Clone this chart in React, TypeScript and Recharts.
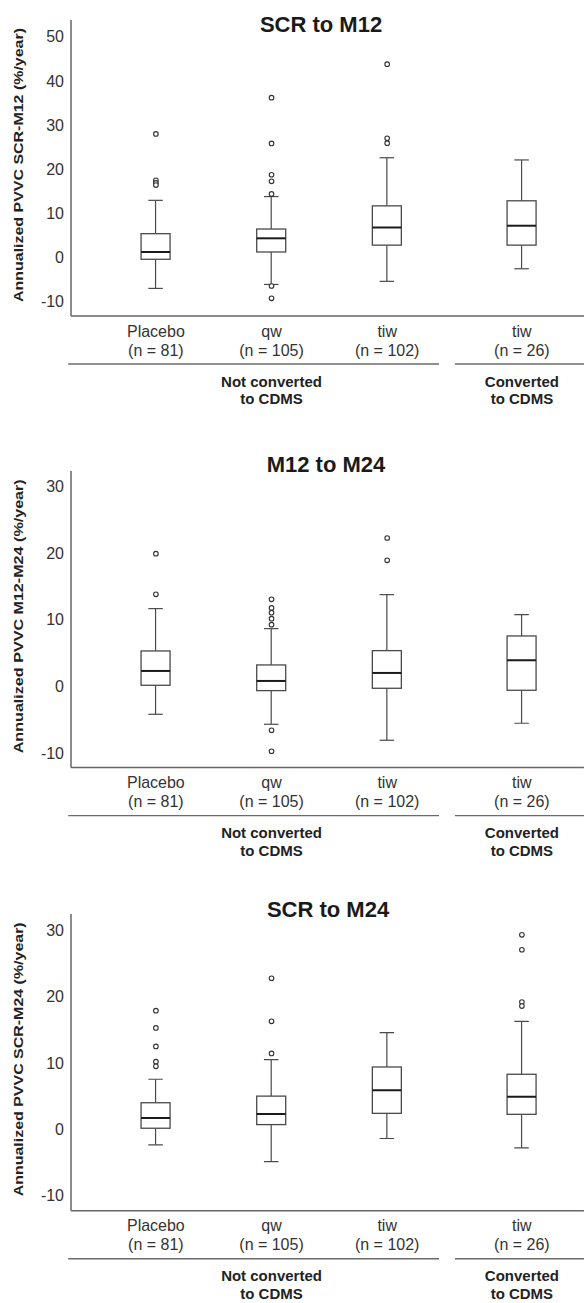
import { Bar, ComposedChart, Scatter, XAxis, YAxis } from "recharts";

const FONT = '"Liberation Sans", Arial, sans-serif';

// x positions of the four boxes (the converted group sits a little apart)
const positions = [1, 2, 3, 4.165];
const groupNames = ["Placebo", "qw", "tiw", "tiw"];
const groupSizes = ["(n = 81)", "(n = 105)", "(n = 102)", "(n = 26)"];

const cohortLabels = [
  ["Not converted", "to CDMS"],
  ["Converted", "to CDMS"],
];
const cohortTick = [1, 3];
const cohortSpans = [
  [0.242, 3.448],
  [3.586, 4.9],
];

const X_MIN = 0.266;
const X_MAX = 4.702;
const PLOT_W = 584 - 71;
const PX_PER_X = PLOT_W / (X_MAX - X_MIN);

// SCR to M12
const m12Low = [-7.0, -6.1, -5.4, -2.55];
const m12Q1 = [-0.4, 1.25, 2.8, 2.8];
const m12Median = [1.25, 4.35, 6.8, 7.2];
const m12Q3 = [5.4, 6.45, 11.7, 12.85];
const m12High = [12.95, 13.8, 22.6, 22.1];
const m12Outliers = [
  [28.0, 17.5, 16.9, 16.4],
  [36.2, 25.85, 18.75, 17.25, 14.4, -6.45, -9.25],
  [43.8, 27.0, 25.9],
  [],
];

// M12 to M24
const m24Low = [-4.2, -5.7, -8.1, -5.55];
const m24Q1 = [0.15, -0.65, -0.3, -0.6];
const m24Median = [2.3, 0.8, 2.0, 3.9];
const m24Q3 = [5.3, 3.2, 5.35, 7.55];
const m24High = [11.65, 8.65, 13.75, 10.75];
const m24Outliers = [
  [19.9, 13.8],
  [13.05, 11.75, 11.05, 10.15, 9.25, -6.6, -9.75],
  [22.25, 18.9],
  [],
];

// SCR to M24
const allLow = [-2.35, -4.9, -1.4, -2.8];
const allQ1 = [0.15, 0.7, 2.4, 2.25];
const allMedian = [1.7, 2.3, 5.9, 4.9];
const allQ3 = [4.0, 5.0, 9.4, 8.3];
const allHigh = [7.55, 10.5, 14.6, 16.3];
const allOutliers = [
  [17.9, 15.3, 12.5, 10.2, 9.5],
  [22.8, 16.3, 11.45],
  [],
  [29.35, 27.1, 19.2, 18.6],
];

const ticksM12 = [-10, 0, 10, 20, 30, 40, 50];
const ticksM24 = [-10, 0, 10, 20, 30];

function BoxShape(props: any) {
  const { x, y, width, height, payload } = props;
  if (height == null || y == null) return null;
  const top = Math.min(y, y + height);
  const k = Math.abs(height) / (payload.high - payload.low);
  const py = (v: number) => top + (payload.high - v) * k;
  const cx = x + width / 2;
  const cap = width / 4;
  const stroke = "#4a4a4a";
  return (
    <g>
      <line x1={cx} x2={cx} y1={py(payload.high)} y2={py(payload.q3)} stroke={stroke} strokeWidth={1.2} />
      <line x1={cx} x2={cx} y1={py(payload.q1)} y2={py(payload.low)} stroke={stroke} strokeWidth={1.2} />
      <line x1={cx - cap} x2={cx + cap} y1={py(payload.high)} y2={py(payload.high)} stroke={stroke} strokeWidth={1.2} />
      <line x1={cx - cap} x2={cx + cap} y1={py(payload.low)} y2={py(payload.low)} stroke={stroke} strokeWidth={1.2} />
      <rect
        x={x}
        y={py(payload.q3)}
        width={width}
        height={py(payload.q1) - py(payload.q3)}
        fill="#fff"
        stroke={stroke}
        strokeWidth={1.3}
      />
      <line x1={x} x2={x + width} y1={py(payload.median)} y2={py(payload.median)} stroke="#1a1a1a" strokeWidth={2} />
    </g>
  );
}

function Outlier(props: any) {
  const { cx, cy } = props;
  if (cx == null || cy == null) return null;
  return <circle cx={cx} cy={cy} r={2.3} fill="#fff" stroke="#333" strokeWidth={1.1} />;
}

function CategoryTick(props: any) {
  const { x, y, index } = props;
  const ci = cohortTick.indexOf(index);
  const posNow = positions[index];
  return (
    <g fontFamily={FONT}>
      <text x={x} y={y + 20.5} textAnchor="middle" fontSize={16} fill="#333">
        {groupNames[index]}
      </text>
      <text x={x} y={y + 39.5} textAnchor="middle" fontSize={16} fill="#333">
        {groupSizes[index]}
      </text>
      {ci >= 0 && (
        <g>
          <line
            x1={x + (cohortSpans[ci][0] - posNow) * PX_PER_X}
            x2={x + (cohortSpans[ci][1] - posNow) * PX_PER_X}
            y1={y + 48}
            y2={y + 48}
            stroke="#6b6b6b"
            strokeWidth={1.4}
          />
          <text x={x} y={y + 70.5} textAnchor="middle" fontSize={15} fontWeight="bold" fill="#222">
            {cohortLabels[ci][0]}
          </text>
          <text x={x} y={y + 88} textAnchor="middle" fontSize={15} fontWeight="bold" fill="#222">
            {cohortLabels[ci][1]}
          </text>
        </g>
      )}
    </g>
  );
}

function Panel(props: {
  top: number;
  title: string;
  titleX: number;
  titleY: number;
  yLabel: string;
  plotH: number;
  domain: [number, number];
  ticks: number[];
  low: number[];
  q1: number[];
  median: number[];
  q3: number[];
  high: number[];
  outliers: number[][];
}) {
  const rows = positions.map((pos, i) => ({
    pos,
    low: props.low[i],
    q1: props.q1[i],
    median: props.median[i],
    q3: props.q3[i],
    high: props.high[i],
  }));
  const points = props.outliers.flatMap((list, i) => list.map((v) => ({ pos: positions[i], v })));
  const height = 20 + props.plotH + 104;

  const yLabel = (p: any) => {
    const vb = p.viewBox || { x: 0, y: 20, width: 71, height: props.plotH };
    const lx = 18;
    const ly = vb.y + vb.height / 2 - 3;
    return (
      <text
        x={lx}
        y={ly}
        transform={`rotate(-90, ${lx}, ${ly})`}
        textAnchor="middle"
        dominantBaseline="central"
        fontFamily={FONT}
        fontWeight="bold"
        fontSize={13}
        fill="#222"
        textLength={274}
        lengthAdjust="spacingAndGlyphs"
      >
        {props.yLabel}
      </text>
    );
  };

  return (
    <div style={{ position: "absolute", left: 0, top: props.top, width: 584, height }}>
      <ComposedChart width={584} height={height} data={rows} margin={{ top: 20, right: 0, bottom: 0, left: 0 }}>
        <XAxis
          type="number"
          dataKey="pos"
          domain={[X_MIN, X_MAX]}
          allowDataOverflow
          ticks={positions}
          interval={0}
          height={104}
          tickLine={false}
          tickSize={0}
          tickMargin={0}
          axisLine={{ stroke: "#666", strokeWidth: 1.5 }}
          tick={<CategoryTick />}
        />
        <YAxis
          type="number"
          width={71}
          domain={props.domain}
          allowDataOverflow
          ticks={props.ticks}
          interval={0}
          tickLine={false}
          tickSize={0}
          tickMargin={7}
          axisLine={{ stroke: "#666", strokeWidth: 1.5 }}
          tick={{ fill: "#333", fontSize: 16, fontFamily: FONT }}
          label={{ value: props.yLabel, content: yLabel }}
        />
        <Bar
          dataKey={(d: any) => [d.low, d.high]}
          barSize={29}
          shape={<BoxShape />}
          isAnimationActive={false}
        />
        <Scatter data={points} dataKey="v" shape={<Outlier />} isAnimationActive={false} />
      </ComposedChart>
      <div
        style={{
          position: "absolute",
          left: props.titleX - 150,
          width: 300,
          top: props.titleY - 21,
          textAlign: "center",
          fontFamily: FONT,
          fontWeight: "bold",
          fontSize: 22,
          lineHeight: "26px",
          color: "#1a1a1a",
        }}
      >
        {props.title}
      </div>
    </div>
  );
}

export default function App() {
  return (
    <div style={{ position: "absolute", left: 0, top: 0, width: 584, height: 1303, background: "#fff" }}>
      <Panel
        top={0}
        title="SCR to M12"
        titleX={321}
        titleY={33}
        yLabel="Annualized PVVC SCR-M12 (%/year)"
        plotH={296}
        domain={[-13.25, 53.8]}
        ticks={ticksM12}
        low={m12Low}
        q1={m12Q1}
        median={m12Median}
        q3={m12Q3}
        high={m12High}
        outliers={m12Outliers}
      />
      <Panel
        top={450.7}
        title="M12 to M24"
        titleX={326}
        titleY={22.6}
        yLabel="Annualized PVVC M12-M24 (%/year)"
        plotH={296.6}
        domain={[-12.2, 32.3]}
        ticks={ticksM24}
        low={m24Low}
        q1={m24Q1}
        median={m24Median}
        q3={m24Q3}
        high={m24High}
        outliers={m24Outliers}
      />
      <Panel
        top={894.3}
        title="SCR to M24"
        titleX={328}
        titleY={23.4}
        yLabel="Annualized PVVC SCR-M24 (%/year)"
        plotH={296.7}
        domain={[-12.3, 32.5]}
        ticks={ticksM24}
        low={allLow}
        q1={allQ1}
        median={allMedian}
        q3={allQ3}
        high={allHigh}
        outliers={allOutliers}
      />
    </div>
  );
}
